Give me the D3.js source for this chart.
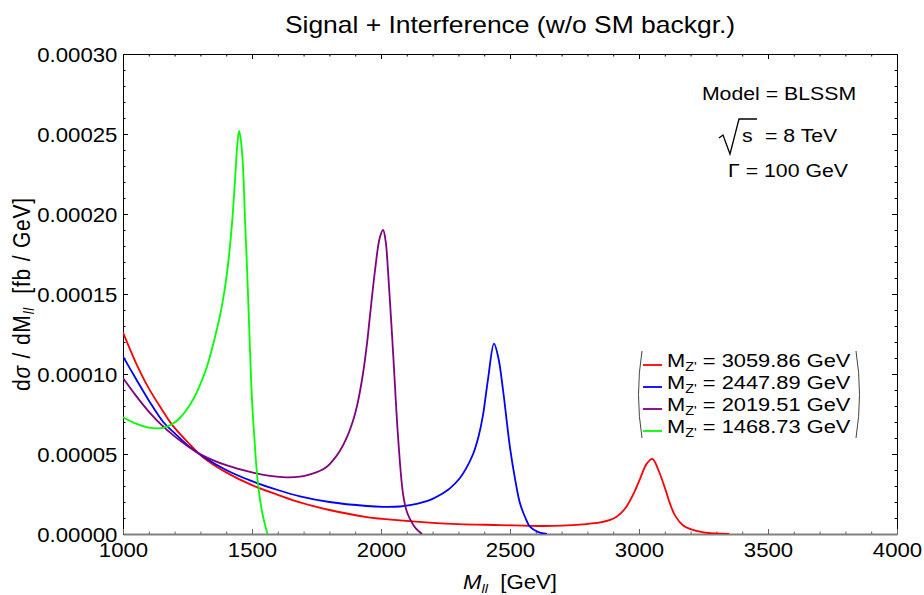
<!DOCTYPE html>
<html><head><meta charset="utf-8">
<script src="https://cdn.jsdelivr.net/npm/d3@7"></script>
<style>
body{margin:0;background:#fff}
text{font-family:"Liberation Sans",Arial,Helvetica,sans-serif;fill:#000}
</style>
</head><body>
<svg id="chart" width="924" height="595"></svg>
<script>
// ---------- DATA (values in units of 1e-5 fb/GeV) ----------
const xTicks = [1000,1500,2000,2500,3000,3500,4000];
const xTickLabels = ["1000","1500","2000","2500","3000","3500","4000"];
const yTicks = [0,5,10,15,20,25,30];
const yTickLabels = ["0.00000","0.00005","0.00010","0.00015","0.00020","0.00025","0.00030"];
const massLabels = ["3059.86","2447.89","2019.51","1468.73"];

const redData = [[1000,12.6],[1050,10.7],[1100,9.1],[1150,7.8],[1189,6.85],[1250,5.75],[1310,4.8],[1400,3.85],[1500,3.05],[1600,2.45],[1686,1.97],[1800,1.5],[1945,1.06],[2074,0.85],[2200,0.7],[2300,0.62],[2461,0.56],[2616,0.5],[2700,0.52],[2783,0.6],[2850,0.72],[2888,0.88],[2910,1.05],[2930,1.3],[2953,1.75],[2980,2.55],[3004,3.45],[3030,4.4],[3052,4.7],[3075,4.0],[3100,2.9],[3120,1.9],[3140,1.15],[3170,0.55],[3200,0.3],[3250,0.1],[3300,0.03],[3350,0]];
const blueData = [[1000,11.1],[1050,9.7],[1100,8.35],[1156,7.0],[1200,6.3],[1250,5.55],[1310,4.85],[1400,4.0],[1500,3.3],[1600,2.75],[1686,2.35],[1800,2.0],[1945,1.75],[2008,1.7],[2074,1.72],[2112,1.8],[2160,1.97],[2200,2.2],[2230,2.45],[2267,2.85],[2306,3.5],[2330,4.1],[2357,5.0],[2378,6.1],[2395,7.4],[2415,9.7],[2438,11.9],[2455,11.0],[2473,9.0],[2500,5.4],[2520,3.4],[2539,1.9],[2560,1.0],[2578,0.44],[2610,0.12],[2643,0]];
const purpleData = [[1000,9.75],[1050,8.65],[1100,7.65],[1150,6.8],[1200,6.1],[1250,5.5],[1310,4.9],[1400,4.3],[1500,3.85],[1620,3.55],[1686,3.58],[1725,3.72],[1764,3.95],[1790,4.2],[1814,4.6],[1841,5.2],[1868,6.05],[1891,7.05],[1907,8.0],[1930,10.0],[1945,11.8],[1957,13.6],[1977,16.5],[1995,18.5],[2008,19.0],[2018,18.3],[2027,16.5],[2047,11.3],[2066,6.1],[2085,2.56],[2100,1.4],[2112,0.95],[2135,0.35],[2159,0]];
const greenData = [[1000,7.3],[1050,6.9],[1100,6.65],[1130,6.6],[1160,6.65],[1194,6.9],[1220,7.25],[1248,7.8],[1275,8.5],[1298,9.3],[1320,10.2],[1337,11.1],[1364,12.8],[1385,14.4],[1403,16.3],[1422,19.3],[1434,22.1],[1443,24.3],[1450,25.2],[1457,24.6],[1465,23.0],[1473,19.6],[1481,16.5],[1488,13.4],[1500,8.4],[1510,5.8],[1518,4.0],[1525,2.9],[1540,1.3],[1550,0.6],[1560,0]];

const series = [
  {data: redData, color: "#ff0000", mass: massLabels[0]},
  {data: blueData, color: "#0000ff", mass: massLabels[1]},
  {data: purpleData, color: "#800080", mass: massLabels[2]},
  {data: greenData, color: "#00ff00", mass: massLabels[3]}
];

// ---------- LAYOUT ----------
const L = 123, R = 897, T = 54, B = 534;
const SX = 1.15;
const svg = d3.select("#chart");
const x = d3.scaleLinear().domain([1000,4000]).range([L,R]);
const y = d3.scaleLinear().domain([0,30]).range([B,T]);

const xMinor = x.ticks(30).filter(v => !xTicks.includes(v));
const yMinor = y.ticks(30).filter(v => !yTicks.includes(v));

function frameAxis(axisFn, scale, major, minor, tr, color){
  const g = svg.append("g").attr("transform", tr);
  g.call(axisFn(scale).tickValues(major).tickSize(-5).tickSizeOuter(0).tickFormat(""));
  const g2 = svg.append("g").attr("transform", tr);
  g2.call(axisFn(scale).tickValues(minor).tickSize(-2.5).tickSizeOuter(0).tickFormat(""));
  g2.select(".domain").remove();
  [g,g2].forEach(gg=>{ gg.selectAll("line").attr("stroke",color); gg.select(".domain").attr("stroke",color); });
  return g;
}
frameAxis(d3.axisTop, x, xTicks, xMinor, `translate(0,${T})`, "#000");
frameAxis(d3.axisRight, y, yTicks, yMinor, `translate(${R},0)`, "#000");

const gl = svg.append("g").attr("transform", `translate(${L},0)`);
gl.call(d3.axisLeft(y).tickValues(yTicks).tickSize(-5).tickSizeOuter(0).tickPadding(5)
  .tickFormat((d,i)=>yTickLabels[i]));
gl.selectAll("line").attr("stroke","#000");
gl.select(".domain").attr("stroke","#000");
gl.selectAll("text").attr("font-size",20).attr("font-family","Liberation Sans, Arial, sans-serif")
  .attr("dy","0.36em").attr("transform",`scale(1.11,1)`).attr("fill","#000");
const glm = svg.append("g").attr("transform", `translate(${L},0)`);
glm.call(d3.axisLeft(y).tickValues(yMinor).tickSize(-2.5).tickSizeOuter(0).tickFormat(""));
glm.select(".domain").remove();
glm.selectAll("line").attr("stroke","#000");

const gb = svg.append("g").attr("transform", `translate(0,${B})`);
gb.call(d3.axisBottom(x).tickValues(xTicks).tickSize(-5).tickSizeOuter(0).tickPadding(9)
  .tickFormat((d,i)=>xTickLabels[i]));
gb.selectAll("line").attr("stroke","#666");
gb.select(".domain").attr("stroke","#808080").attr("stroke-width",2);
gb.selectAll("text").attr("font-size",20).attr("font-family","Liberation Sans, Arial, sans-serif")
  .attr("transform",`scale(1.11,1)`).attr("fill","#000");
const gbm = svg.append("g").attr("transform", `translate(0,${B})`);
gbm.call(d3.axisBottom(x).tickValues(xMinor).tickSize(-2.5).tickSizeOuter(0).tickFormat(""));
gbm.select(".domain").remove();
gbm.selectAll("line").attr("stroke","#666");

// ---------- CURVES ----------
svg.append("clipPath").attr("id","clip").append("rect")
  .attr("x",L).attr("y",T).attr("width",R-L).attr("height",B-T);
const line = d3.line().x(d=>x(d[0])).y(d=>y(d[1])).curve(d3.curveCatmullRom.alpha(0.5));
const gc = svg.append("g").attr("clip-path","url(#clip)");
series.forEach(s=>{
  gc.append("path").attr("d", line(s.data)).attr("fill","none")
    .attr("stroke", s.color).attr("stroke-width",1.8).attr("stroke-linejoin","round");
});

// ---------- TEXT ----------
function txt(xp, yp, size, anchor, sx){
  return svg.append("text").attr("transform",`translate(${xp},${yp}) scale(${sx||SX},1)`)
    .attr("text-anchor",anchor).attr("font-size",size).attr("xml:space","preserve");
}

txt(510, 33, 23, "middle").text("Signal + Interference (w/o SM backgr.)");

txt(779, 100, 18.5, "middle").text("Model = BLSSM");
svg.append("path").attr("d","M719,138 L723,135 L730,154 L739,119 L757,119")
  .attr("fill","none").attr("stroke","#000").attr("stroke-width",1.3);
txt(742, 142, 18.5, "start").text("s");
txt(765, 142, 18.5, "start").text("= 8 TeV");
txt(788, 177, 18.5, "middle").text("\u0393 = 100 GeV");

const legBase = [367, 389, 411, 433];
series.forEach((s,i)=>{
  const by = legBase[i];
  svg.append("line").attr("x1",643).attr("x2",662).attr("y1",by-2).attr("y2",by-2)
    .attr("stroke",s.color).attr("stroke-width",1.8);
  const t = txt(667, by, 19, "start");
  t.append("tspan").text("M");
  t.append("tspan").attr("font-size",12.5).attr("dy",4).text("Z'");
  t.append("tspan").attr("dy",-4).text(" = " + s.mass + " GeV");
});
svg.append("path").attr("d","M642,351 Q635,394.5 642,438").attr("fill","none").attr("stroke","#444").attr("stroke-width",1);
svg.append("path").attr("d","M856,351 Q863,394.5 856,438").attr("fill","none").attr("stroke","#444").attr("stroke-width",1);

const xl = txt(510, 589, 20, "middle", 1.11);
xl.append("tspan").attr("font-style","italic").text("M");
xl.append("tspan").attr("font-style","italic").attr("font-size",13).attr("dy",4).text("ll");
xl.append("tspan").attr("dy",-4).text("  [GeV]");

const yl = svg.append("text").attr("transform","translate(30,294) rotate(-90) scale(1,1.12)")
  .attr("text-anchor","middle").attr("font-size",21).attr("letter-spacing",0.8).attr("xml:space","preserve");
yl.append("tspan").text("d");
yl.append("tspan").attr("font-style","italic").text("\u03c3");
yl.append("tspan").text(" / dM");
yl.append("tspan").attr("font-style","italic").attr("font-size",13).attr("dy",4).text("ll");
yl.append("tspan").attr("dy",-4).text("  [fb / GeV]");
</script>
</body></html>
